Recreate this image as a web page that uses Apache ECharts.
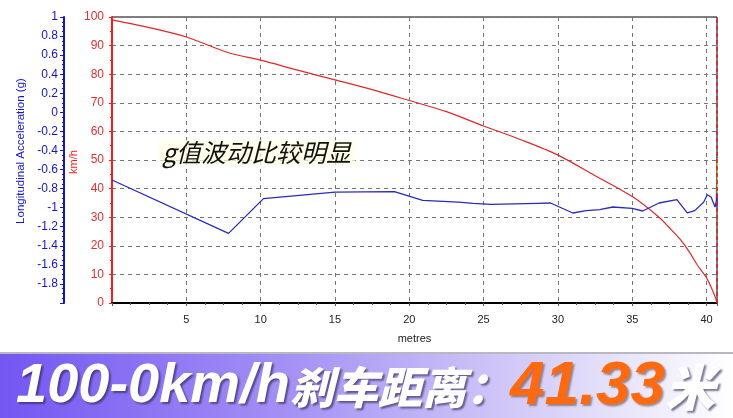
<!DOCTYPE html>
<html>
<head>
<meta charset="utf-8">
<script src="https://cdn.jsdelivr.net/npm/echarts@6/dist/echarts.min.js"></script>
<style>html,body{margin:0;padding:0;background:#fff;}#c{width:733px;height:418px;}</style>
</head>
<body>
<div id="c"></div>
<script>
// Speed (km/h) vs distance (metres)
const speedMetres = [0, 2.5, 5, 7.84, 10, 12.5, 15, 17.5, 20, 22.5, 25, 27.5, 30, 32.5, 35, 36.8, 37.5, 38.2, 38.85, 39.4, 39.95, 40.3, 40.6, 40.7];
const speedKmh    = [99.0, 96.3, 93.0, 87.5, 84.9, 81.4, 78.0, 74.6, 70.8, 66.9, 61.9, 57.1, 51.7, 44.5, 37.2, 30.0, 26.3, 22.4, 17.8, 13.1, 9.2, 5.6, 1.8, 0];
// Longitudinal acceleration (g) vs distance (metres)
const accelMetres = [0, 7.84, 10.19, 12.6, 15.0, 19.0, 20.9, 23.3, 24.3, 25.5, 28.6, 29.5, 31.0, 31.9, 32.8, 33.7, 35.0, 35.7, 36.25, 36.8, 38.0, 38.7, 39.2, 39.8, 40.05, 40.3, 40.57, 40.66, 40.7, 40.7];
const accelG      = [-0.71, -1.27, -0.905, -0.87, -0.836, -0.832, -0.923, -0.941, -0.954, -0.965, -0.954, -0.951, -1.056, -1.031, -1.02, -0.993, -1.007, -1.035, -0.993, -0.951, -0.915, -1.054, -1.031, -0.944, -0.865, -0.888, -0.993, -0.923, -0.47, -0.99];
// short trace visible at the right edge
const traceMetres = [40.72, 40.72];
const traceG      = [-0.48, -0.85];
const endMetres = 40.7;

const speedAxisName = 'km/h';
const annotation = 'g值波动比较明显';
const bannerMain = '100-0km/h';
const bannerCJK = '刹车距离：';
const bannerValue = '41.33';
const bannerUnit = '米';

const zip = (a, b) => a.map((v, i) => [v, b[i]]);

const chart = echarts.init(document.getElementById('c'), null, {renderer: 'canvas'});
const RED = '#e4262a', BLUE = '#2a2ac4', AX_RED = '#ff1a1a', AX_BLUE = '#1414d0';
const shadowW = {textShadowColor: 'rgba(40,30,80,0.6)', textShadowBlur: 2, textShadowOffsetX: 2, textShadowOffsetY: 2};
chart.setOption({
  animation: false,
  backgroundColor: '#fff',
  grid: {left: 112, right: 16, top: 17, bottom: 115, show: true, borderColor: '#000', borderWidth: 1, containLabel: false},
  xAxis: {
    type: 'value', min: 0, max: endMetres, interval: 5,
    name: 'metres', nameLocation: 'middle', nameGap: 30,
    nameTextStyle: {color: '#222', fontSize: 11, fontFamily: 'Liberation Sans'},
    axisLine: {lineStyle: {color: '#000', width: 2}},
    axisTick: {show: true, length: 3, lineStyle: {color: '#555'}},
    minorTick: {show: true, splitNumber: 4, length: 2, lineStyle: {color: '#555'}},
    axisLabel: {showMinLabel: false, showMaxLabel: false, color: '#222', fontSize: 11, fontFamily: 'Liberation Sans', margin: 11},
    splitLine: {show: true, lineStyle: {color: '#777', type: [4, 4], width: 1}}
  },
  yAxis: [{
    type: 'value', min: 0, max: 100, interval: 10, position: 'left',
    axisLine: {show: true, lineStyle: {color: AX_RED, width: 2}},
    axisTick: {show: true, length: 3, lineStyle: {color: AX_RED}},
    minorTick: {show: true, splitNumber: 2, length: 2, lineStyle: {color: AX_RED}},
    axisLabel: {color: '#e03030', fontSize: 12, fontFamily: 'Liberation Sans', margin: 8},
    splitLine: {show: true, lineStyle: {color: '#777', type: [4, 4], width: 1}}
  }, {
    type: 'value', min: -2, max: 1, interval: 0.2, position: 'left', offset: 48,
    name: 'Longitudinal Acceleration (g)', nameLocation: 'middle', nameGap: 36, nameRotate: 90,
    nameTextStyle: {color: AX_BLUE, fontSize: 11.5, fontFamily: 'Liberation Sans', padding: [0, 0, 0, 18]},
    axisLine: {show: true, lineStyle: {color: AX_BLUE, width: 2}},
    axisTick: {show: true, length: 4, lineStyle: {color: AX_BLUE}},
    minorTick: {show: true, splitNumber: 4, length: 2, lineStyle: {color: AX_BLUE}},
    axisLabel: {showMinLabel: false, color: AX_BLUE, fontSize: 12, fontFamily: 'Liberation Sans', margin: 6},
    splitLine: {show: false}
  }],
  series: [{
    name: 'speed', type: 'line', yAxisIndex: 0, data: zip(speedMetres, speedKmh),
    showSymbol: false, smooth: 0.3, lineStyle: {color: RED, width: 1.2}, clip: false,
    markLine: {silent: true, symbol: 'none', label: {show: false},
      lineStyle: {color: '#e02020', type: [4, 3], width: 1.5},
      data: [{xAxis: endMetres}]}
  }, {
    name: 'accel', type: 'line', yAxisIndex: 1, data: zip(accelMetres, accelG),
    showSymbol: false, lineStyle: {color: BLUE, width: 1.3}, clip: false
  }, {
    name: 'trace', type: 'line', yAxisIndex: 1, data: zip(traceMetres, traceG),
    showSymbol: false, lineStyle: {color: '#a8d040', width: 1.5}, clip: false
  }],
  graphic: [{
    type: 'text', x: 74, y: 162, rotation: Math.PI / 2, z: 100,
    style: {text: speedAxisName, fill: AX_RED, font: '11px "Liberation Sans", sans-serif', align: 'center', verticalAlign: 'middle'}
  }, {
    type: 'text', left: 158, top: 140, z: 100,
    style: {text: annotation, fill: '#111', font: 'italic 25px "Noto Sans CJK SC", "Noto Sans", sans-serif',
      backgroundColor: 'rgba(255,255,228,0.7)', padding: [0, 4, 0, 4]}
  }, {
    type: 'rect', left: 0, top: 353, z: 50,
    shape: {width: 733, height: 65},
    style: {fill: new echarts.graphic.LinearGradient(0, 0, 1, 0, [
      {offset: 0, color: '#7456f2'}, {offset: 0.4, color: '#a592f4'},
      {offset: 0.75, color: '#d9d2f8'}, {offset: 1, color: '#ffffff'}])}
  }, {
    type: 'rect', left: 0, top: 352, z: 51,
    shape: {width: 733, height: 2}, style: {fill: '#b8b8c0'}
  }, {
    type: 'text', x: 16, y: 387, z: 60,
    style: {
      text: '{a|' + bannerMain + '}{b|' + bannerCJK + '}{c|' + bannerValue + '}{d|' + bannerUnit + '}',
      verticalAlign: 'middle',
      rich: {
        a: Object.assign({fill: '#fff', font: 'italic bold 56px "Liberation Sans", sans-serif'}, shadowW),
        b: Object.assign({fill: '#fff', font: 'italic 900 44px "Noto Sans CJK SC", sans-serif'}, shadowW),
        c: {fill: '#ff6a10', font: 'italic bold 62px "Liberation Sans", sans-serif', textShadowColor: 'rgba(80,40,20,0.5)', textShadowBlur: 2, textShadowOffsetX: 2, textShadowOffsetY: 2},
        d: Object.assign({fill: '#fff', font: 'italic 900 50px "Noto Sans CJK SC", sans-serif'}, shadowW)
      }
    }
  }]
});
</script>
</body>
</html>
